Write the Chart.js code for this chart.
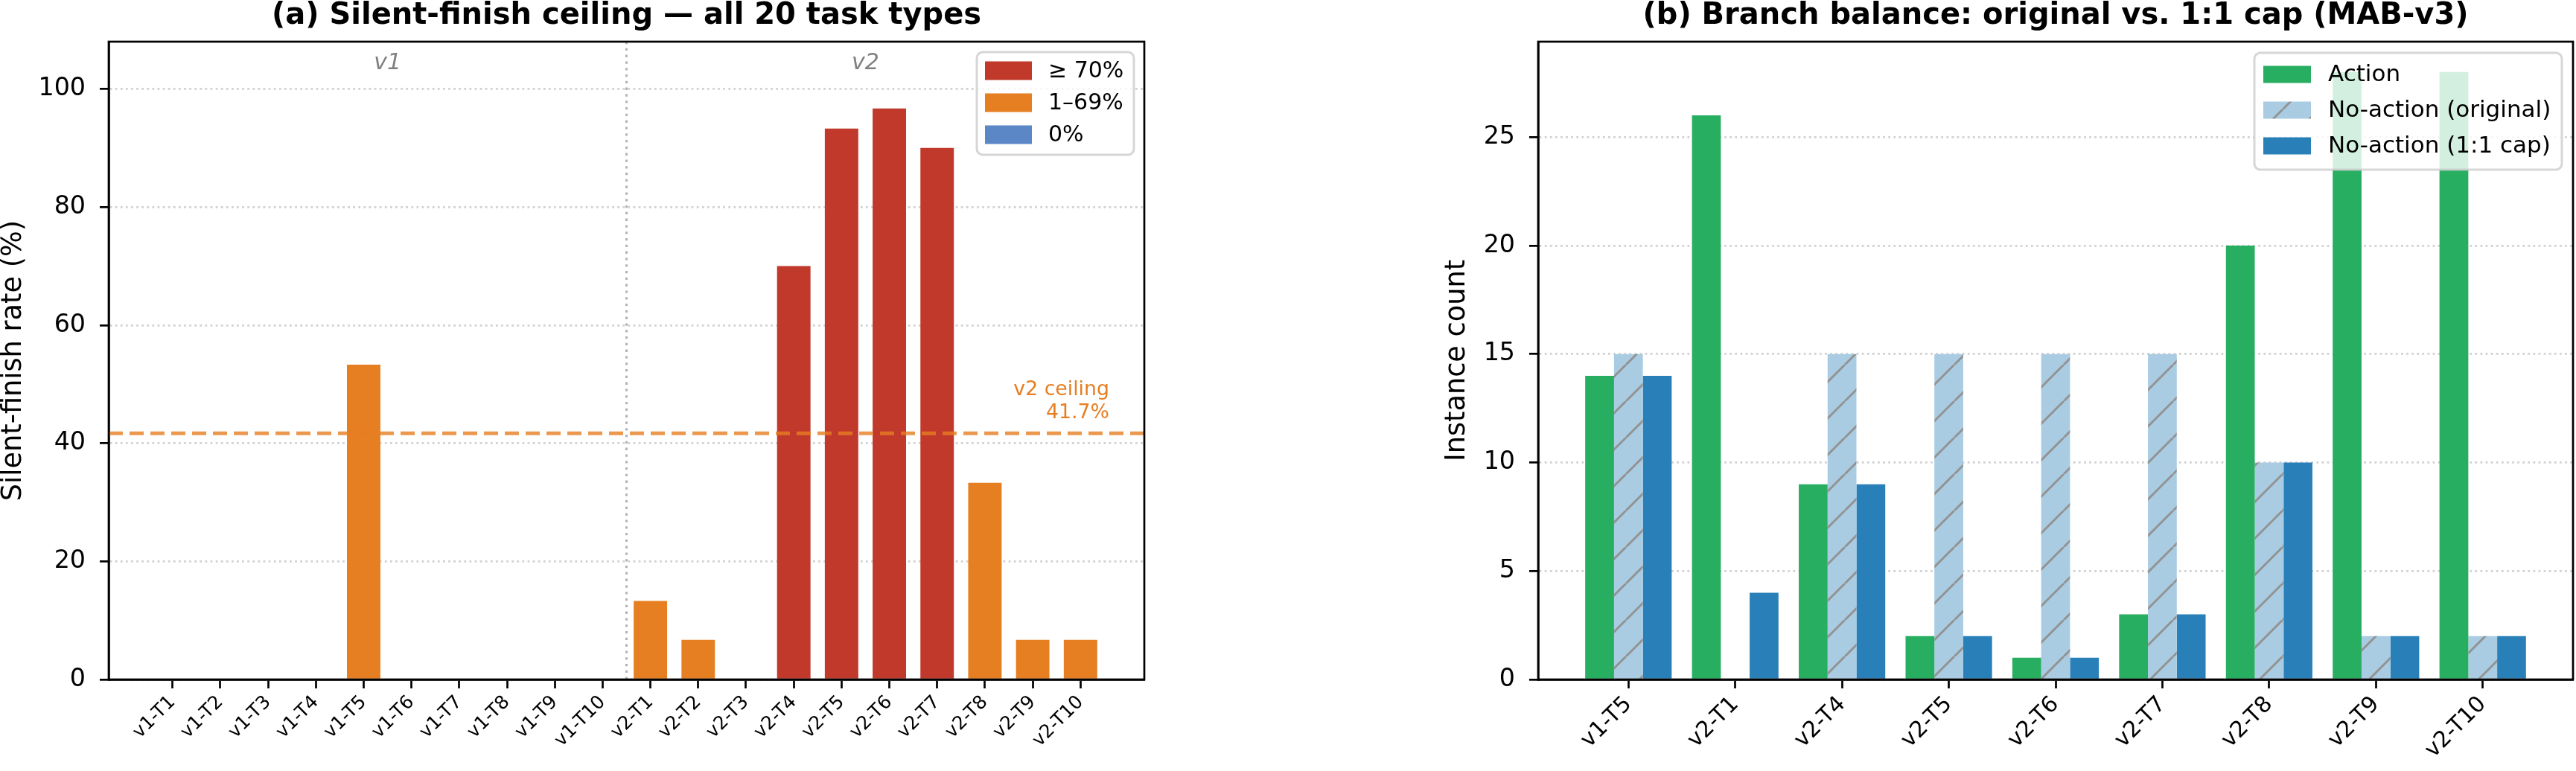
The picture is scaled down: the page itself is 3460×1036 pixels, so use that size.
<!DOCTYPE html>
<html>
<head>
<meta charset="utf-8">
<script src="https://cdn.jsdelivr.net/npm/chart.js@4.4.1/dist/chart.umd.min.js"></script>
<style>
  body { margin: 0; background: #fff; width: 3460px; height: 1036px; overflow: hidden; position: relative; }
  canvas { position: absolute; top: 0; }
  #chartA { left: 0; }
  #chartB { left: 1939px; }
</style>
</head>
<body>
<canvas id="chartA" width="1560" height="1036"></canvas>
<canvas id="chartB" width="1521" height="1036"></canvas>
<script>
// panel (a): silent-finish rate per task type (%)
const taskLabels = ['v1-T1', 'v1-T2', 'v1-T3', 'v1-T4', 'v1-T5', 'v1-T6', 'v1-T7', 'v1-T8', 'v1-T9', 'v1-T10',
                    'v2-T1', 'v2-T2', 'v2-T3', 'v2-T4', 'v2-T5', 'v2-T6', 'v2-T7', 'v2-T8', 'v2-T9', 'v2-T10'];
const silentRate = [0, 0, 0, 0, 53.3, 0, 0, 0, 0, 0,
                    13.3, 6.7, 0, 70, 93.3, 96.7, 90, 33.3, 6.7, 6.7];
const rateBins = ['\u2265 70%', '1\u201369%', '0%'];
const binColors = ['#c0392b', '#e67e22', '#5b87c6'];

// panel (b): branch balance (instance counts)
const balanceLabels = ['v1-T5', 'v2-T1', 'v2-T4', 'v2-T5', 'v2-T6', 'v2-T7', 'v2-T8', 'v2-T9', 'v2-T10'];
const actionCount = [14, 26, 9, 2, 1, 3, 20, 28, 28];
const noActionOriginal = [15, 0, 15, 15, 15, 15, 10, 2, 2];
const noActionCapped = [14, 4, 9, 2, 1, 3, 10, 2, 2];
const seriesNames = ['Action', 'No-action (original)', 'No-action (1:1 cap)'];

const FONT = 'DejaVu Sans';
Chart.defaults.font.family = FONT;
Chart.defaults.color = '#000';

//v2 ceiling = mean of the v2 rates
const v2Rates = silentRate.filter((v, i) => taskLabels[i].startsWith('v2'));
const ceiling = v2Rates.reduce((a, b) => a + b, 0) / v2Rates.length;

function binOf(v) {
    if (v >= 70) return 0;
    if (v > 0) return 1;
    return 2;
}

function makeHatch(bg, lineColor, step, lw) {
    const c = document.createElement('canvas');
    c.width = step; c.height = step;
    const g = c.getContext('2d');
    g.fillStyle = bg;
    g.fillRect(0, 0, step, step);
    g.strokeStyle = lineColor;
    g.lineWidth = lw;
    g.beginPath();
    for (const k of [-1, 0, 1]) {
        g.moveTo(k * step, step);
        g.lineTo(k * step + step, 0);
    }
    g.stroke();
    return g.createPattern(c, 'repeat');
}
const hatch = makeHatch('#a9cce3', '#939393', 49, 3);

// shared drawing helpers
function drawFrame(chart) {
    const {ctx, chartArea: a} = chart;
    ctx.save();
    ctx.strokeStyle = '#000';
    ctx.lineWidth = 2.7;
    ctx.strokeRect(a.left, a.top, a.right - a.left, a.bottom - a.top);
    ctx.restore();
}

function drawTitle(chart, text) {
    const {ctx, chartArea: a} = chart;
    ctx.save();
    ctx.font = 'bold 40px "' + FONT + '"';
    ctx.fillStyle = '#000';
    ctx.textAlign = 'center';
    ctx.textBaseline = 'middle';
    ctx.fillText(text, (a.left + a.right) / 2, 22);
    ctx.restore();
}

function drawLegend(chart, items, o) {
    const {ctx, chartArea: a} = chart;
    const x = a.right - o.inset - o.w;
    const y = a.top + o.inset;
    ctx.save();
    ctx.beginPath();
    ctx.roundRect(x, y, o.w, o.h, 8);
    ctx.fillStyle = 'rgba(255,255,255,0.8)';
    ctx.fill();
    ctx.strokeStyle = 'rgba(204,204,204,0.8)';
    ctx.lineWidth = 3;
    ctx.stroke();
    ctx.font = o.font + 'px "' + FONT + '"';
    ctx.textBaseline = 'middle';
    ctx.textAlign = 'left';
    items.forEach((it, i) => {
        const cy = y + o.first + i * o.pitch;
        ctx.fillStyle = it.color;
        ctx.fillRect(x + o.patchX, cy - o.patchH / 2, o.patchW, o.patchH);
        ctx.fillStyle = '#000';
        ctx.fillText(it.text, x + o.textX, cy + 1);
    });
    ctx.restore();
}

// keep only the round tick values
const stepTicks = step => ax => { ax.ticks = ax.ticks.filter(t => Math.abs(t.value / step - Math.round(t.value / step)) < 1e-9); };

const gridStyle = {color: 'rgba(176,176,176,0.6)', lineWidth: 2.7, tickLength: 12, tickWidth: 2.7, tickColor: '#000'};

//Panel (a)
const widthA = 0.7;
const marginA = 0.05 * (taskLabels.length - 1 + widthA);
const versions = ['v1', 'v2'];

new Chart(document.getElementById('chartA'), {
    type: 'bar',
    data: {
        datasets: [{
            data: silentRate.map((v, i) => ({x: i, y: v})),
            backgroundColor: silentRate.map(v => binColors[binOf(v)]),
            borderWidth: 0,
            categoryPercentage: widthA,
            barPercentage: 1
        }]
    },
    options: {
        responsive: false,
        animation: false,
        devicePixelRatio: 1,
        layout: {padding: {top: 56, right: 23, left: 0, bottom: 0}},
        plugins: {legend: {display: false}, tooltip: {enabled: false}},
        scales: {
            x: {
                type: 'linear', bounds: 'data', offset: false,
                min: -widthA / 2 - marginA,
                max: taskLabels.length - 1 + widthA / 2 + marginA,
                afterBuildTicks: ax => { ax.ticks = taskLabels.map((_, i) => ({value: i})); },
                afterFit: ax => { ax.height = 123; },
                ticks: {autoSkip: false, minRotation: 45, maxRotation: 45, padding: 4,
                        font: {size: 25}, color: '#000', callback: v => taskLabels[v]},
                grid: {drawOnChartArea: false, offset: false, tickLength: 12, tickWidth: 2.7, tickColor: '#000'},
                border: {color: '#000', width: 2.7}
            },
            y: {
                min: 0, max: 108, bounds: 'data',
                afterBuildTicks: stepTicks(20),
                afterFit: ax => { ax.width = 146; },
                ticks: {stepSize: 20, includeBounds: false, padding: 19, font: {size: 33.3}, color: '#000'},
                grid: gridStyle,
                border: {color: '#000', width: 2.7, dash: [2.7, 4.4]},
                title: {display: true, text: 'Silent-finish rate (%)', font: {size: 36.7, lineHeight: 1}, padding: 0, color: '#000'}
            }
        }
    },
    plugins: [{
        id: 'panelA',
        beforeDatasetsDraw(chart) {
            const {ctx, chartArea: a, scales: {x}} = chart;
            // v1 | v2 separator
            const lastV1 = taskLabels.filter(t => t.startsWith('v1')).length - 1;
            const sx = x.getPixelForValue(lastV1 + 0.5);
            ctx.save();
            ctx.strokeStyle = 'rgba(128,128,128,0.6)';
            ctx.lineWidth = 3;
            ctx.setLineDash([3.3, 5.5]);
            ctx.beginPath();
            ctx.moveTo(sx, a.top);
            ctx.lineTo(sx, a.bottom);
            ctx.stroke();
            ctx.restore();
        },
        afterDatasetsDraw(chart) {
            const {ctx, chartArea: a, scales: {x, y}} = chart;
            ctx.save();
            // ceiling line
            const cy = y.getPixelForValue(ceiling);
            ctx.strokeStyle = 'rgba(230,126,34,0.8)';
            ctx.lineWidth = 5;
            ctx.setLineDash([19, 9]);
            ctx.beginPath();
            ctx.moveTo(a.left, cy);
            ctx.lineTo(a.right, cy);
            ctx.stroke();
            ctx.setLineDash([]);
            // ceiling label
            ctx.font = '26.7px "' + FONT + '"';
            ctx.fillStyle = '#e67e22';
            ctx.textAlign = 'right';
            ctx.textBaseline = 'alphabetic';
            const lx = x.getPixelForValue(19.6);
            const base2 = y.getPixelForValue(ceiling + 2) - 4;
            ctx.fillText('v2 ceiling', lx, base2 - 31.7);
            ctx.fillText(ceiling.toFixed(1) + '%', lx, base2);
            // version labels
            ctx.font = 'italic 30px "' + FONT + '"';
            ctx.fillStyle = '#808080';
            ctx.textAlign = 'center';
            ctx.textBaseline = 'middle';
            versions.forEach(v => {
                const idx = taskLabels.map((t, i) => t.startsWith(v) ? i : null).filter(i => i !== null);
                const mid = (idx[0] + idx[idx.length - 1]) / 2;
                ctx.fillText(v, x.getPixelForValue(mid), y.getPixelForValue(104.3));
            });
            ctx.restore();
        },
        afterDraw(chart) {
            drawFrame(chart);
            drawTitle(chart, '(a) Silent-finish ceiling \u2014 all 20 task types');
            drawLegend(chart, rateBins.map((t, i) => ({text: t, color: binColors[i]})),
                {inset: 14, w: 211, h: 138, first: 25, pitch: 43, patchX: 11, patchW: 63, patchH: 25, textX: 96, font: 30});
        }
    }]
});

//Panel (b)
const widthB = 0.27;
const marginB = 0.05 * (balanceLabels.length - 1 + 3 * widthB);
const seriesColors = ['#27ae60', hatch, '#2980b9'];
const seriesData = [actionCount, noActionOriginal, noActionCapped];

new Chart(document.getElementById('chartB'), {
    type: 'bar',
    data: {
        datasets: seriesData.map((arr, k) => ({
            label: seriesNames[k],
            data: arr.map((v, i) => ({x: i, y: v})),
            backgroundColor: seriesColors[k],
            borderWidth: 0,
            categoryPercentage: 3 * widthB,
            barPercentage: 1
        }))
    },
    options: {
        responsive: false,
        animation: false,
        devicePixelRatio: 1,
        layout: {padding: {top: 56, right: 4, left: 0, bottom: 0}},
        plugins: {legend: {display: false}, tooltip: {enabled: false}},
        scales: {
            x: {
                type: 'linear', bounds: 'data', offset: false,
                min: -1.5 * widthB - marginB,
                max: balanceLabels.length - 1 + 1.5 * widthB + marginB,
                afterBuildTicks: ax => { ax.ticks = balanceLabels.map((_, i) => ({value: i})); },
                afterFit: ax => { ax.height = 123; },
                ticks: {autoSkip: false, minRotation: 45, maxRotation: 45, padding: 4,
                        font: {size: 30}, color: '#000', callback: v => balanceLabels[v]},
                grid: {drawOnChartArea: false, offset: false, tickLength: 12, tickWidth: 2.7, tickColor: '#000'},
                border: {color: '#000', width: 2.7}
            },
            y: {
                min: 0, max: 29.4, bounds: 'data',
                afterBuildTicks: stepTicks(5),
                afterFit: ax => { ax.width = 127; },
                ticks: {stepSize: 5, includeBounds: false, padding: 19, font: {size: 33.3}, color: '#000'},
                grid: gridStyle,
                border: {color: '#000', width: 2.7, dash: [2.7, 4.4]},
                title: {display: true, text: 'Instance count', font: {size: 36.7, lineHeight: 1}, padding: 0, color: '#000'}
            }
        }
    },
    plugins: [{
        id: 'panelB',
        afterDraw(chart) {
            drawFrame(chart);
            drawTitle(chart, '(b) Branch balance: original vs. 1:1 cap (MAB-v3)');
            drawLegend(chart, seriesNames.map((t, i) => ({text: t, color: seriesColors[i]})),
                {inset: 15, w: 413, h: 157, first: 29, pitch: 48, patchX: 12, patchW: 64, patchH: 23, textX: 99, font: 31});
        }
    }]
});
</script>
</body>
</html>
